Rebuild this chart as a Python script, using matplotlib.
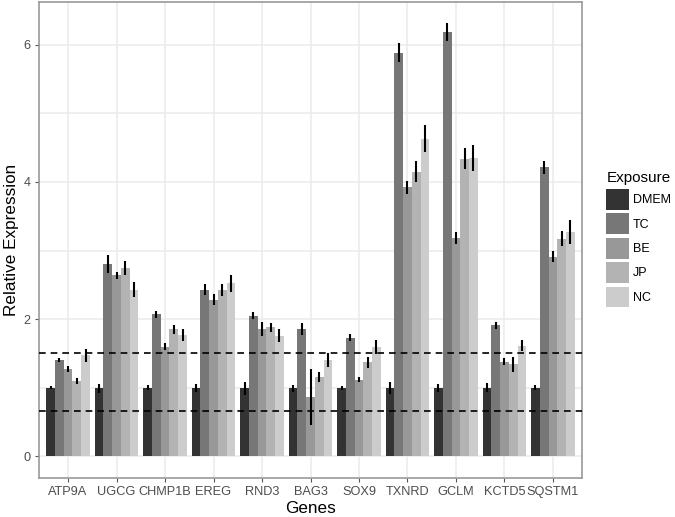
import numpy as np
import matplotlib
matplotlib.use('Agg')
import matplotlib.pyplot as plt
from matplotlib.patches import Patch

plt.rcParams['font.family'] = ['Liberation Sans', 'DejaVu Sans']

# Datos
genes = ['ATP9A', 'UGCG', 'CHMP1B', 'EREG', 'RND3', 'BAG3', 'SOX9',
         'TXNRD', 'GCLM', 'KCTD5', 'SQSTM1']
exposures = ['DMEM', 'TC', 'BE', 'JP', 'NC']

dmem = [1.00, 0.99, 1.00, 1.00, 0.99, 0.99, 0.99, 1.00, 1.00, 1.00, 1.00]
tc = [1.40, 2.80, 2.07, 2.43, 2.05, 1.86, 1.73, 5.88, 6.18, 1.91, 4.21]
be = [1.27, 2.64, 1.60, 2.28, 1.86, 0.87, 1.12, 3.92, 3.18, 1.38, 2.91]
jp = [1.10, 2.74, 1.85, 2.42, 1.88, 1.16, 1.37, 4.15, 4.34, 1.34, 3.17]
nc = [1.47, 2.43, 1.77, 2.52, 1.76, 1.40, 1.59, 4.63, 4.35, 1.61, 3.27]

dmem_err = [0.02, 0.06, 0.04, 0.06, 0.09, 0.05, 0.03, 0.085, 0.06, 0.065, 0.04]
tc_err = [0.03, 0.13, 0.05, 0.08, 0.05, 0.09, 0.055, 0.14, 0.13, 0.05, 0.09]
be_err = [0.04, 0.05, 0.05, 0.08, 0.10, 0.41, 0.035, 0.10, 0.09, 0.05, 0.08]
jp_err = [0.04, 0.10, 0.065, 0.09, 0.065, 0.07, 0.085, 0.15, 0.15, 0.11, 0.11]
nc_err = [0.10, 0.11, 0.09, 0.13, 0.09, 0.10, 0.10, 0.20, 0.19, 0.08, 0.17]

thresholds = [1.5, 1 / 1.5]

series = [dmem, tc, be, jp, nc]
errors = [dmem_err, tc_err, be_err, jp_err, nc_err]
colors = ['#333333', '#777777', '#989898', '#B3B3B3', '#CCCCCC']

fig = plt.figure(figsize=(6.75, 5.17), dpi=100)
ax = fig.add_axes([39 / 675, 1 - 478 / 517, (582 - 39) / 675, (478 - 1.7) / 517])

x = np.arange(len(genes))
w = 0.9 / len(exposures)
for i, (vals, errs, c) in enumerate(zip(series, errors, colors)):
    pos = x - 0.45 + w * (i + 0.5)
    ax.bar(pos, vals, width=w, color=c, linewidth=0, zorder=2)
    vals = np.array(vals)
    errs = np.array(errs)
    ax.vlines(pos, vals - errs, vals + errs, color='black', linewidth=1.5, zorder=3)

# lineas de umbral
for t in thresholds:
    ax.axhline(t, color='black', linestyle=(0, (4, 3)), linewidth=1.2, zorder=4)

ax.set_xlim(-0.6, len(genes) - 0.4)
ax.set_ylim(-0.3155, 6.626)
ax.set_xticks(x)
ax.set_xticklabels(genes)
ax.set_yticks([0, 2, 4, 6])
ax.set_yticks([1, 3, 5], minor=True)
ax.grid(True, which='major', color='#EBEBEB', linewidth=1.1, zorder=0)
ax.grid(True, which='minor', axis='y', color='#EBEBEB', linewidth=1.1, zorder=0)
ax.set_axisbelow(True)
ax.tick_params(which='major', length=3, color='#555555', labelsize=9.2, labelcolor='#4D4D4D', pad=3)
ax.tick_params(which='minor', length=0)
for s in ax.spines.values():
    s.set_color('#999999')
    s.set_linewidth(1.2)

ax.set_xlabel('Genes', fontsize=12.3, labelpad=2)
ax.set_ylabel('Relative Expression', fontsize=12.3, labelpad=3)

handles = [Patch(facecolor=c, edgecolor='none', label=e) for c, e in zip(colors, exposures)]
leg = fig.legend(handles=handles, title='Exposure', loc='upper left',
                 bbox_to_anchor=(600 / 675, 1 - 165 / 517), frameon=False,
                 fontsize=9, title_fontsize=11, handlelength=1.85, handleheight=2.2,
                 labelspacing=0.28, handletextpad=0.3, borderpad=0, alignment='left')

fig.savefig('out.png', dpi=100)
